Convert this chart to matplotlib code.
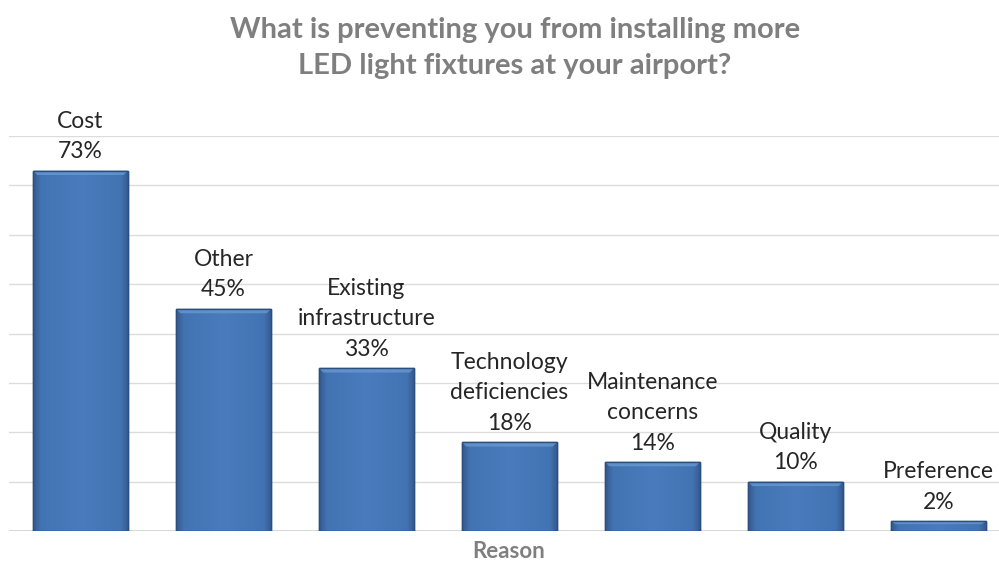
import matplotlib
matplotlib.use("Agg")
import matplotlib.pyplot as plt
import numpy as np
from matplotlib.colors import LinearSegmentedColormap

plt.rcParams['font.family'] = ['Lato', 'DejaVu Sans']

categories = ["Cost", "Other", "Existing\ninfrastructure", "Technology\ndeficiencies",
              "Maintenance\nconcerns", "Quality", "Preference"]
values = [73, 45, 33, 18, 14, 10, 2]
title = "What is preventing you from installing more\nLED light fixtures at your airport?"
xlabel = "Reason"

fig = plt.figure(figsize=(9.99, 5.61), dpi=100)
ax = fig.add_axes([9/999, 30/561, 1001/999, 395/561])
ax.set_xlim(-0.5, 6.5)
ax.set_ylim(0, 80)

for y in range(10, 81, 10):
    ax.axhline(y, color='#dcdcdc', lw=1, zorder=0)
ax.axhline(0, color='#d0d0d0', lw=1.2, zorder=0)

x = np.arange(len(categories))
bars = ax.bar(x, values, width=0.665, color='#4677b6', edgecolor='#2b4f7e', linewidth=1.0, zorder=2)

# horizontal gradient overlay (darker near edges)
cmap = LinearSegmentedColormap.from_list(
    'b', [(0, '#34598d'), (0.08, '#4273b2'), (0.5, '#4a7cbd'), (0.92, '#4273b2'), (1, '#34598d')])
grad = np.linspace(0, 1, 200).reshape(1, -1)
for b in bars:
    x0, w, h = b.get_x(), b.get_width(), b.get_height()
    im = ax.imshow(grad, extent=[x0, x0 + w, 0, h], aspect='auto', cmap=cmap, zorder=2.5)
    im.set_clip_path(b)
    bev = min(0.9, h * 0.3)
    ax.fill([x0, x0 + w, x0 + w - 0.03, x0 + 0.03], [h, h, h - bev, h - bev],
            color='#6a9bd3', alpha=0.75, zorder=3, lw=0)
    ax.bar(x0 + w / 2, h, width=w, facecolor='none', edgecolor='#2b4f7e', linewidth=1.0, zorder=3.5)

for xi, v, c in zip(x, values, categories):
    ax.annotate(f"{c}\n{v}%", (xi, v), xytext=(0, 6), textcoords='offset points',
                ha='center', va='bottom', fontsize=16.5, color='#262626', linespacing=1.55)

for s in ax.spines.values():
    s.set_visible(False)
ax.set_xticks([])
ax.set_yticks([])

fig.text(515/999, 1 - 48/561, title, ha='center', va='center', fontsize=21, fontweight='bold',
         color='#7f7f7f', linespacing=1.5)
fig.text(509/999, 1 - 551/561, xlabel, ha='center', va='center', fontsize=16, fontweight='bold',
         color='#7f7f7f')

fig.savefig('out.png', dpi=100)
